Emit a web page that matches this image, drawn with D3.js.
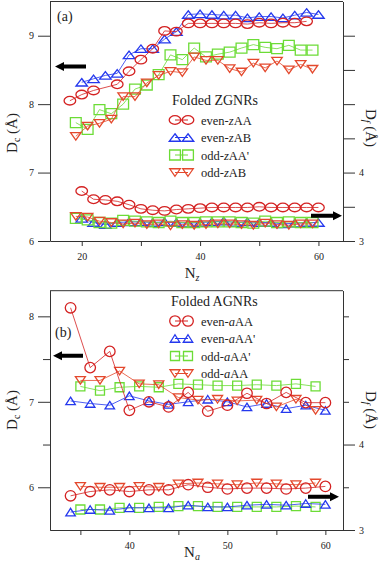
<!DOCTYPE html>
<html>
<head>
<meta charset="utf-8">
<script src="https://cdn.jsdelivr.net/npm/d3@7"></script>
<style>
body { margin: 0; background: #fff; }
svg text { font-family: "Liberation Serif", "Times New Roman", serif; fill: #222; }
</style>
</head>
<body>
<svg id="chart" width="383" height="561"></svg>
<script>
// ---------- panel (a) : folded ZGNRs ----------
var zEvenTopN = [18, 20, 22, 26, 28, 30, 32, 34, 36, 38, 40, 42, 44, 46, 48, 50, 52, 54, 56, 58]
var zEvenN = [20, 22, 24, 26, 28, 30, 32, 34, 36, 38, 40, 42, 44, 46, 48, 50, 52, 54, 56, 58, 60]
var zOddN = [19, 21, 23, 25, 27, 29, 31, 33, 35, 37, 39, 41, 43, 45, 47, 49, 51, 53, 55, 57, 59]

// D_c (left axis)
var evenZAA_Dc = [8.05, 8.14, 8.20, 8.29, 8.48, 8.65, 8.81, 9.07, 9.06, 9.18, 9.18, 9.18, 9.18, 9.18, 9.17, 9.19, 9.18, 9.19, 9.19, 9.21]
var evenZAB_Dc = [8.32, 8.37, 8.42, 8.45, 8.72, 8.81, 8.81, 8.95, 9.06, 9.31, 9.32, 9.31, 9.30, 9.30, 9.26, 9.28, 9.28, 9.26, 9.30, 9.34, 9.31]
var oddZAAp_Dc = [7.73, 7.63, 7.92, 7.86, 8.00, 8.22, 8.28, 8.43, 8.72, 8.65, 8.82, 8.69, 8.73, 8.76, 8.82, 8.87, 8.83, 8.81, 8.86, 8.79, 8.79]
var oddZAB_Dc = [7.53, 7.68, 7.72, 7.78, 8.11, 8.11, 8.31, 8.42, 8.48, 8.46, 8.69, 8.64, 8.64, 8.52, 8.47, 8.60, 8.53, 8.63, 8.50, 8.58, 8.51]
// D_f (right axis)
var evenZAA_Df = [3.73, 3.61, 3.60, 3.58, 3.53, 3.47, 3.45, 3.44, 3.46, 3.47, 3.48, 3.49, 3.49, 3.49, 3.49, 3.50, 3.49, 3.49, 3.49, 3.49, 3.49]
var evenZAB_Df = [3.33, 3.27, 3.24, 3.27, 3.28, 3.28, 3.27, 3.28, 3.27, 3.26, 3.27, 3.28, 3.29, 3.27, 3.28, 3.27, 3.27, 3.25, 3.26, 3.27, 3.27]
var oddZAAp_Df = [3.33, 3.31, 3.27, 3.26, 3.30, 3.29, 3.28, 3.27, 3.29, 3.27, 3.27, 3.28, 3.28, 3.28, 3.27, 3.26, 3.29, 3.27, 3.28, 3.27, 3.27]
var oddZAB_Df = [3.36, 3.35, 3.29, 3.27, 3.25, 3.26, 3.24, 3.25, 3.22, 3.24, 3.23, 3.24, 3.25, 3.25, 3.24, 3.23, 3.26, 3.24, 3.23, 3.25, 3.25]

// ---------- panel (b) : folded AGNRs ----------
var aEvenN = [34, 36, 38, 40, 42, 44, 46, 48, 50, 52, 54, 56, 58, 60]
var aOddN = [35, 37, 39, 41, 43, 45, 47, 49, 51, 53, 55, 57, 59]

var evenAAA_Dc = [8.10, 7.40, 7.59, 6.90, 7.00, 6.94, 7.11, 6.89, 6.96, 7.10, 6.98, 7.11, 6.99, 6.99]
var evenAAAp_Dc = [7.01, 6.98, 6.96, 7.07, 7.01, 6.97, 7.00, 7.03, 7.00, 6.94, 6.98, 6.92, 6.96, 6.90]
var oddAAAp_Dc = [7.18, 7.13, 7.17, 7.18, 7.17, 7.21, 7.20, 7.19, 7.19, 7.20, 7.19, 7.21, 7.18]
var oddAAA_Dc = [7.25, 7.25, 7.36, 7.21, 7.20, 7.05, 7.02, 7.03, 7.01, 7.02, 6.94, 7.03, 6.90]

var evenAAA_Df = [3.40, 3.45, 3.47, 3.45, 3.47, 3.47, 3.53, 3.50, 3.48, 3.49, 3.49, 3.48, 3.49, 3.51]
var evenAAAp_Df = [3.21, 3.24, 3.23, 3.26, 3.26, 3.26, 3.29, 3.27, 3.27, 3.29, 3.30, 3.29, 3.31, 3.30]
var oddAAAp_Df = [3.24, 3.24, 3.26, 3.26, 3.27, 3.28, 3.28, 3.27, 3.27, 3.27, 3.27, 3.28, 3.27]
var oddAAA_Df = [3.51, 3.50, 3.50, 3.51, 3.50, 3.54, 3.55, 3.54, 3.53, 3.55, 3.54, 3.53, 3.55]

var red = "#d42222", blue = "#2438ee", green = "#6cdc36", orange = "#e4482c"

var svg = d3.select("#chart")

function symbolPath(shape, w, h) {
    if (shape == "up") return "M0," + (-h / 2) + "L" + (w / 2) + "," + (h / 2) + "L" + (-w / 2) + "," + (h / 2) + "Z"
    if (shape == "down") return "M0," + (h / 2) + "L" + (w / 2) + "," + (-h / 2) + "L" + (-w / 2) + "," + (-h / 2) + "Z"
    if (shape == "square") return "M" + (-w / 2) + "," + (-h / 2) + "h" + w + "v" + h + "h" + (-w) + "Z"
    // ellipse made of two arcs
    return "M" + (-w / 2) + ",0A" + (w / 2) + "," + (h / 2) + " 0 1,0 " + (w / 2) + ",0A" + (w / 2) + "," + (h / 2) + " 0 1,0 " + (-w / 2) + ",0Z"
}

function drawSeries(g, x, y, ns, vals, color, shape, size) {
    var pts = ns.map((n, i) => [x(n), y(vals[i])])
    g.append("path")
        .attr("d", d3.line()(pts))
        .attr("fill", "none")
        .attr("stroke", color)
        .attr("stroke-opacity", 0.8)
        .attr("stroke-width", 1)
    g.selectAll(null)
        .data(pts)
        .enter().append("path")
        .attr("transform", d => "translate(" + d[0] + "," + d[1] + ")")
        .attr("d", symbolPath(shape, size[0], size[1]))
        .attr("fill", "none")
        .attr("stroke", color)
        .attr("stroke-width", 1.3)
}

function arrow(g, x0, x1, yy) {
    // x0 = tip
    var dir = x1 > x0 ? 1 : -1
    var head = 9 * dir
    g.append("path")
        .attr("d", "M" + x0 + "," + yy + "L" + (x0 + head) + "," + (yy - 4.5) + "L" + (x0 + head) + "," + (yy - 2) +
            "L" + x1 + "," + (yy - 2) + "L" + x1 + "," + (yy + 2) + "L" + (x0 + head) + "," + (yy + 2) +
            "L" + (x0 + head) + "," + (yy + 4.5) + "Z")
        .attr("fill", "#000")
}

function legend(g, lx, ly, title, items) {
    g.append("text").attr("x", lx).attr("y", ly).attr("font-size", 14).text(title)
    items.forEach((it, i) => {
        var yy = ly + 15 + i * 17.5
        g.append("line").attr("x1", 175).attr("x2", 188).attr("y1", yy).attr("y2", yy)
            .attr("stroke", it.color).attr("stroke-width", 1)
        ;[175, 188].forEach(sx => {
            g.append("path")
                .attr("transform", "translate(" + sx + "," + yy + ")")
                .attr("d", symbolPath(it.shape, it.size[0], it.size[1]))
                .attr("fill", "none").attr("stroke", it.color).attr("stroke-width", 1.3)
        })
        var t = g.append("text").attr("x", 201).attr("y", yy + 4.5).attr("font-size", 12.5)
        t.append("tspan").text(it.pre)
        t.append("tspan").attr("font-style", "italic").text(it.it)
        t.append("tspan").text(it.post)
    })
}

function axes(g, p) {
    var ax = g.append("g").attr("font-size", 13).attr("color", "#333")
    ax.append("line").attr("x1", p.left).attr("x2", p.right).attr("y1", p.top).attr("y2", p.top).attr("stroke", "#333")

    ax.append("g").attr("transform", "translate(" + p.left + ",0)")
        .call(d3.axisLeft(p.y).tickValues(p.yMajor).tickSize(12).tickSizeOuter(0).tickPadding(4).tickFormat(d3.format("d")))
    if (p.yMinor.length)
        ax.append("g").attr("transform", "translate(" + p.left + ",0)")
            .call(d3.axisLeft(p.y).tickValues(p.yMinor).tickSize(7).tickSizeOuter(0).tickFormat(""))

    ax.append("g").attr("transform", "translate(" + p.right + ",0)")
        .call(d3.axisRight(p.r).tickValues(p.rMajor).tickSize(12).tickSizeOuter(0).tickPadding(4)
            .tickFormat(d => p.rLabels.indexOf(d) >= 0 ? d : ""))
    ax.append("g").attr("transform", "translate(" + p.right + ",0)")
        .call(d3.axisRight(p.r).tickValues(p.rMinor).tickSize(p.rMinorSize).tickSizeOuter(0).tickFormat(""))

    ax.append("g").attr("transform", "translate(0," + p.bottom + ")")
        .call(d3.axisBottom(p.x).tickValues(p.xTicks).tickSize(5).tickSizeOuter(0).tickPadding(7)
            .tickFormat(d => p.xLabels.indexOf(d) >= 0 ? d : ""))
    ax.selectAll("text").attr("fill", "#222")
    ax.selectAll(".domain, .tick line").attr("stroke", "#333")
}

// ---------- panel (a) ----------
var pa = {
    left: 50, right: 343, top: 1.5, bottom: 241,
    x: d3.scaleLinear().domain([14.64, 64.15]).range([50, 343]),
    y: d3.scaleLinear().domain([6, 9.5]).range([241, 1.5]),
    r: d3.scaleLinear().domain([3, 6.5]).range([241, 1.5]),
    yMajor: [6, 7, 8, 9], yMinor: [],
    rMajor: [3, 3.5, 4, 4.5, 5, 5.5, 6], rMinor: [], rMinorSize: 6, rLabels: [3, 4],
    xTicks: [20, 30, 40, 50, 60], xLabels: [20, 40, 60]
}
var ga = svg.append("g")
axes(ga, pa)

var aSz = { c: [11.6, 8.6], u: [11.5, 7.5], s: [10.8, 10], d: [10.5, 7.5] }
drawSeries(ga, pa.x, pa.y, zOddN, oddZAAp_Dc, green, "square", aSz.s)
drawSeries(ga, pa.x, pa.y, zOddN, oddZAB_Dc, orange, "down", aSz.d)
drawSeries(ga, pa.x, pa.y, zEvenN, evenZAB_Dc, blue, "up", aSz.u)
drawSeries(ga, pa.x, pa.y, zEvenTopN, evenZAA_Dc, red, "circle", aSz.c)
drawSeries(ga, pa.x, pa.r, zEvenN, evenZAB_Df, blue, "up", aSz.u)
drawSeries(ga, pa.x, pa.r, zOddN, oddZAAp_Df, green, "square", aSz.s)
drawSeries(ga, pa.x, pa.r, zOddN, oddZAB_Df, orange, "down", aSz.d)
drawSeries(ga, pa.x, pa.r, zEvenN, evenZAA_Df, red, "circle", aSz.c)

arrow(ga, 55, 86, pa.y(8.55))
arrow(ga, 342, 311, pa.r(3.37))

ga.append("text").attr("x", 57).attr("y", 21).attr("font-size", 14).text("(a)")

legend(ga, 172, 105, "Folded ZGNRs", [
    { pre: "even-", it: "z", post: "AA", color: red, shape: "circle", size: aSz.c },
    { pre: "even-", it: "z", post: "AB", color: blue, shape: "up", size: aSz.u },
    { pre: "odd-", it: "z", post: "AA'", color: green, shape: "square", size: aSz.s },
    { pre: "odd-", it: "z", post: "AB", color: orange, shape: "down", size: aSz.d }
])

var tA = ga.append("text").attr("text-anchor", "middle").attr("font-size", 15)
    .attr("transform", "translate(17,133) rotate(-90)")
tA.append("tspan").text("D")
tA.append("tspan").attr("font-size", 10).attr("dy", 3).text("c")
tA.append("tspan").attr("dy", -3).text(" (Å)")
var tB = ga.append("text").attr("text-anchor", "middle").attr("font-size", 15)
    .attr("transform", "translate(366,128) rotate(90)")
tB.append("tspan").text("D")
tB.append("tspan").attr("font-size", 10).attr("dy", 3).attr("font-style", "italic").text("f")
tB.append("tspan").attr("dy", -3).text(" (Å)")
var tC = ga.append("text").attr("text-anchor", "middle").attr("font-size", 15)
    .attr("x", 192).attr("y", 278)
tC.append("tspan").text("N")
tC.append("tspan").attr("font-size", 10).attr("dy", 3).attr("font-style", "italic").text("z")

// ---------- panel (b) ----------
var pb = {
    left: 50, right: 343, top: 290.7, bottom: 530,
    x: d3.scaleLinear().domain([31.9, 61.8]).range([50, 343]),
    y: d3.scaleLinear().domain([5.5, 8.3]).range([530, 290.7]),
    r: d3.scaleLinear().domain([3, 5.8]).range([530, 290.7]),
    yMajor: [6, 7, 8], yMinor: [6.5, 7.5],
    rMajor: [3, 4], rMinor: [3.5, 4.5, 5, 5.5], rMinorSize: 6, rLabels: [3, 4],
    xTicks: [35, 40, 45, 50, 55, 60], xLabels: [40, 50, 60]
}
var gb = svg.append("g")
axes(gb, pb)

var bSz = { c: [10.6, 10.4], u: [9.5, 7.5], s: [9, 9], d: [10, 7.5] }
drawSeries(gb, pb.x, pb.y, aOddN, oddAAAp_Dc, green, "square", bSz.s)
drawSeries(gb, pb.x, pb.y, aEvenN, evenAAAp_Dc, blue, "up", bSz.u)
drawSeries(gb, pb.x, pb.y, aOddN, oddAAA_Dc, orange, "down", bSz.d)
drawSeries(gb, pb.x, pb.y, aEvenN, evenAAA_Dc, red, "circle", bSz.c)
drawSeries(gb, pb.x, pb.r, aOddN, oddAAAp_Df, green, "square", bSz.s)
drawSeries(gb, pb.x, pb.r, aEvenN, evenAAAp_Df, blue, "up", bSz.u)
drawSeries(gb, pb.x, pb.r, aOddN, oddAAA_Df, orange, "down", bSz.d)
drawSeries(gb, pb.x, pb.r, aEvenN, evenAAA_Df, red, "circle", bSz.c)

arrow(gb, 53, 83, pb.y(7.54))
arrow(gb, 339, 308, pb.r(3.39))

gb.append("text").attr("x", 55).attr("y", 337).attr("font-size", 14).text("(b)")

legend(gb, 171, 306, "Folded AGNRs", [
    { pre: "even-", it: "a", post: "AA", color: red, shape: "circle", size: bSz.c },
    { pre: "even-", it: "a", post: "AA'", color: blue, shape: "up", size: bSz.u },
    { pre: "odd-", it: "a", post: "AA'", color: green, shape: "square", size: bSz.s },
    { pre: "odd-", it: "a", post: "AA", color: orange, shape: "down", size: bSz.d }
])

var tD = gb.append("text").attr("text-anchor", "middle").attr("font-size", 15)
    .attr("transform", "translate(17,410) rotate(-90)")
tD.append("tspan").text("D")
tD.append("tspan").attr("font-size", 10).attr("dy", 3).text("c")
tD.append("tspan").attr("dy", -3).text(" (Å)")
var tE = gb.append("text").attr("text-anchor", "middle").attr("font-size", 15)
    .attr("transform", "translate(366,410) rotate(90)")
tE.append("tspan").text("D")
tE.append("tspan").attr("font-size", 10).attr("dy", 3).attr("font-style", "italic").text("f")
tE.append("tspan").attr("dy", -3).text(" (Å)")
var tF = gb.append("text").attr("text-anchor", "middle").attr("font-size", 15)
    .attr("x", 192).attr("y", 557)
tF.append("tspan").text("N")
tF.append("tspan").attr("font-size", 10).attr("dy", 3).attr("font-style", "italic").text("a")
</script>
</body>
</html>
